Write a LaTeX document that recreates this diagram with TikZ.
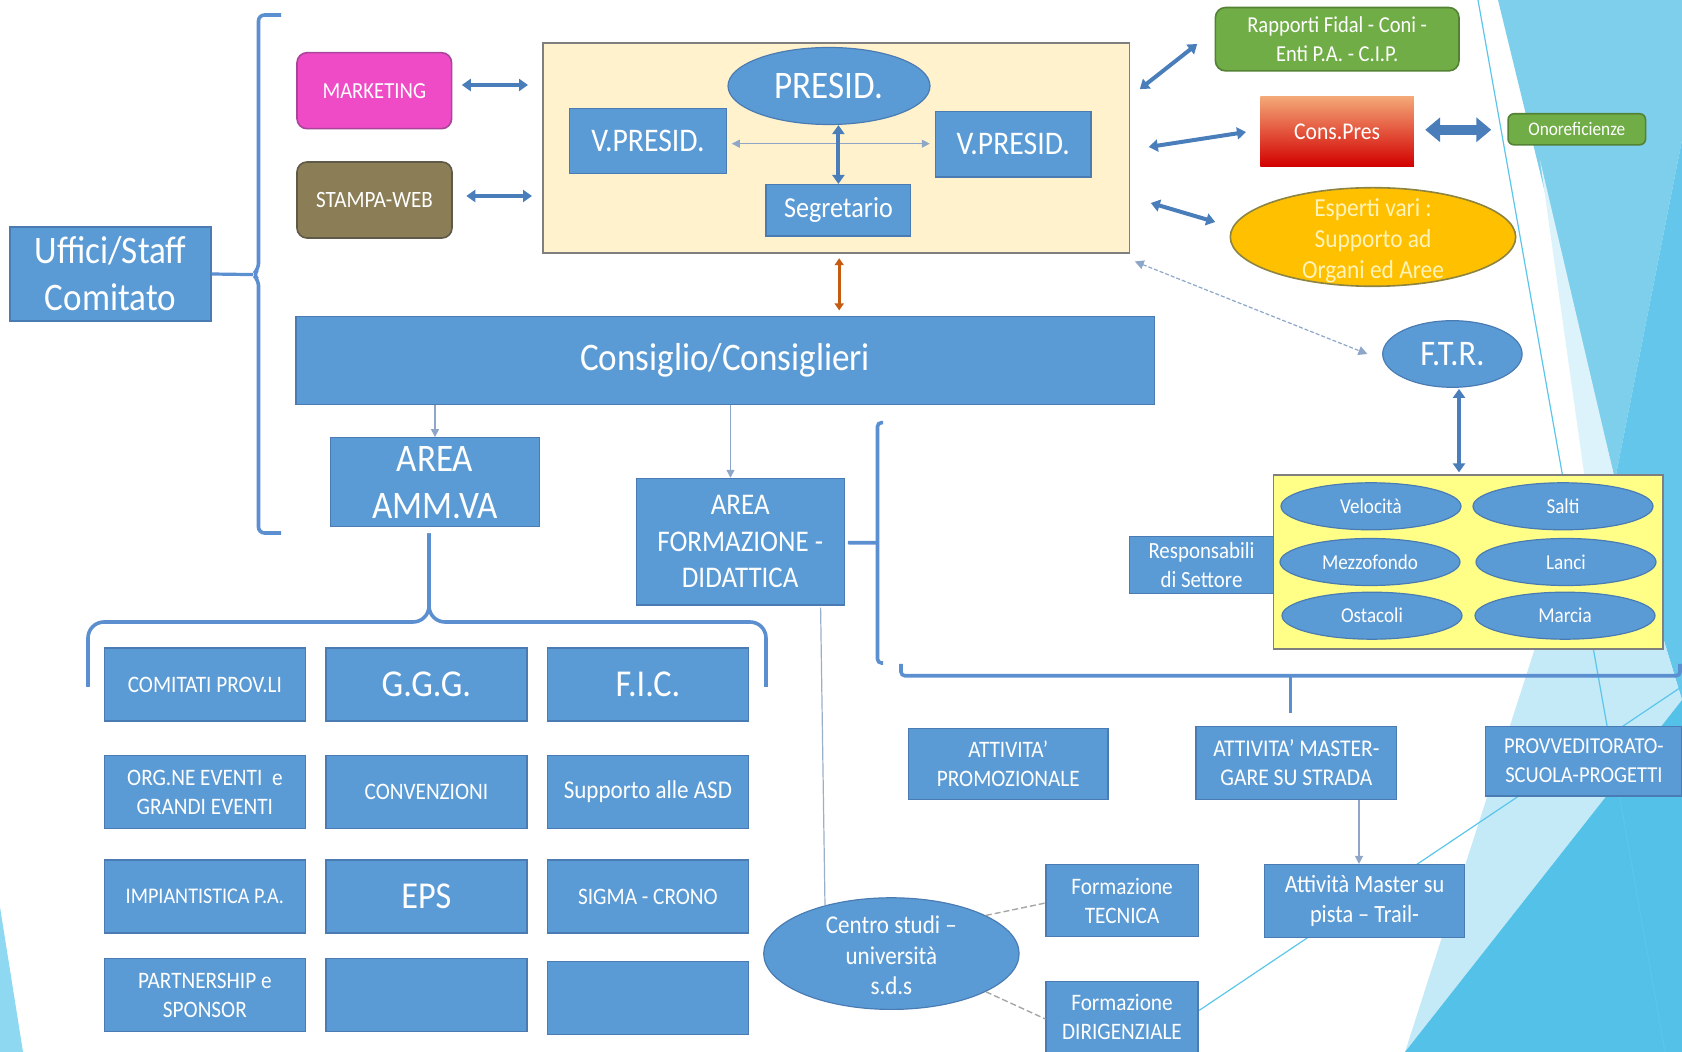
\documentclass[tikz,border=0pt]{standalone}
\usepackage{fontspec}
\setmainfont{Carlito}[FakeStretch=0.9]
\usetikzlibrary{arrows.meta,calc,shapes.geometric}
\definecolor{boxblue}{HTML}{5B9BD5}
\definecolor{boxline}{HTML}{4A7CB3}
\definecolor{arrblue}{HTML}{4A7EBB}
\definecolor{thinblue}{HTML}{8EA7C9}
\definecolor{bracecol}{HTML}{5B8FD0}
\definecolor{creamfill}{HTML}{FFF2CC}
\definecolor{yelfill}{HTML}{FFFF88}
\definecolor{grayline}{HTML}{7F7F7F}
\definecolor{mag}{HTML}{EF4BC6}
\definecolor{magline}{HTML}{A8449A}
\definecolor{olivefill}{HTML}{8B7E57}
\definecolor{oliveline}{HTML}{5F5A47}
\definecolor{grn}{HTML}{70AD47}
\definecolor{grnline}{HTML}{548235}
\definecolor{gold}{HTML}{FFC000}
\definecolor{goldline}{HTML}{8C8440}
\definecolor{esptext}{HTML}{FFF3B8}
\definecolor{orng}{HTML}{C55A11}
\definecolor{cptop}{HTML}{F4A878}
\definecolor{cpbot}{HTML}{D20000}
\definecolor{bgM}{HTML}{7ECFEC}
\definecolor{bgD}{HTML}{63C6EA}
\definecolor{bgB}{HTML}{53C1E8}
\definecolor{bgP}{HTML}{C4E9F7}
\definecolor{bgS}{HTML}{DDF3FB}
\definecolor{bgL}{HTML}{8ED8F1}
\definecolor{bgline}{HTML}{5BC6EB}
\definecolor{glinecol}{HTML}{9AAFC8}
\definecolor{gdashcol}{HTML}{A6A6A6}
\begin{document}
\begin{tikzpicture}[x=0.5pt,y=-0.5pt,
  sz/.style 2 args={minimum width=#1*0.5pt,minimum height=#2*0.5pt},
  box/.style={draw=boxline,fill=boxblue,text=white,align=center,line width=0.6pt,inner sep=1pt},
  ell/.style={box,ellipse},
  rbox/.style={text=white,align=center,rounded corners=5pt,line width=0.8pt,inner sep=1pt},
  fA/.style={font=\fontsize{19.5}{23.5}\selectfont},
  fG/.style={font=\fontsize{19}{23}\selectfont},
  fFTR/.style={font=\fontsize{18}{22}\selectfont},
  fV/.style={font=\fontsize{16.5}{20}\selectfont},
  fF/.style={font=\fontsize{15}{18.2}\selectfont},
  fSeg/.style={font=\fontsize{14.5}{17}\selectfont},
  fE/.style={font=\fontsize{13}{15.5}\selectfont},
  fC/.style={font=\fontsize{12.8}{15.3}\selectfont},
  fP/.style={font=\fontsize{12.4}{14.6}\selectfont},
  fS/.style={font=\fontsize{11.8}{14.5}\selectfont},
  fSs/.style={font=\fontsize{11.4}{14.5}\selectfont},
  fO/.style={font=\fontsize{9.6}{11.5}\selectfont},
  fV2/.style={font=\fontsize{10.6}{12.5}\selectfont},
  dbl/.style={draw=arrblue,line width=2pt,arrows={Triangle[width=6pt,length=4.5pt]-Triangle[width=6pt,length=4.5pt]}},
  thinar/.style={draw=thinblue,line width=0.6pt,arrows={-Triangle[width=4pt,length=4pt]}},
  thinboth/.style={draw=thinblue,line width=0.6pt,arrows={Triangle[width=4pt,length=4pt]-Triangle[width=4pt,length=4pt]}},
  dasharr/.style={draw=thinblue,line width=0.6pt,dash pattern=on 2pt off 1pt,arrows={Triangle[width=4.5pt,length=4.5pt]-Triangle[width=4.5pt,length=4.5pt]}},
  orar/.style={draw=orng,line width=1.6pt,arrows={Triangle[width=4.5pt,length=3.5pt]-Triangle[width=4.5pt,length=3.5pt]}},
  blockar/.style={draw=arrblue,line width=4.8pt,arrows={Triangle[width=12pt,length=7.5pt]-Triangle[width=12pt,length=7.5pt]}},
  brace/.style={draw=bracecol,line width=1.8pt,rounded corners=4pt},
  gline/.style={draw=glinecol,line width=0.6pt},
  gdash/.style={draw=gdashcol,line width=0.7pt,dash pattern=on 3pt off 1.5pt},
  bgl/.style={draw=bgline,line width=0.6pt}
]
\useasboundingbox (0,0) rectangle (1682,1052);
% ---------- background decoration
\fill[bgM] (1498,0) -- (1682,0) -- (1682,140) -- (1615,480) -- cycle;
\fill[bgD] (1682,140) -- (1615,480) -- (1682,700) -- cycle;
\fill[bgS] (1540,160) -- (1615,480) -- (1585,480) -- cycle;
\fill[bgP] (1585,480) -- (1615,480) -- (1682,700) -- (1405,1052) -- (1535,648) -- cycle;
\fill[bgB] (1405,1052) -- (1682,700) -- (1682,1052) -- cycle;
\fill[bgL] (0,907) -- (23,1052) -- (0,1052) -- cycle;
\draw[bgl] (1478,0) -- (1665,1052);
\draw[bgl] (1682,686.5) -- (1199,1010.5);

% ---------- nodes
\node[box,sz={201}{94},fA] (uff) at (110.5,274) {Uffici/Staff\\Comitato};
\node[rbox,fill=mag,draw=magline,sz={154.6}{76},font=\fontsize{11.5}{14}\selectfont] (mkt) at (374.3,90.7) {MARKETING};
\node[rbox,fill=olivefill,draw=oliveline,sz={155}{76},font=\fontsize{11.7}{14}\selectfont] (stw) at (374.5,200) {STAMPA-WEB};
\node[draw=grayline,fill=creamfill,line width=0.8pt,sz={586.8}{210.3}] (cream) at (836.2,148) {};
\node[ell,sz={202}{77},fA] (pres) at (829,86) {PRESID.};
\node[box,sz={156.6}{65.5},fV] (vpl) at (647.9,141) {V.PRESID.};
\node[box,sz={155.6}{65.4},fV] (vpr) at (1013.2,144.3) {V.PRESID.};
\node[box,sz={144.7}{51.5},fSeg] (seg) at (838.4,210.3) {Segretario};
\node[box,sz={858.2}{88},fA] (cons) at (725.1,360.4) {Consiglio/Consiglieri};
\node[rbox,fill=grn,draw=grnline,sz={243.6}{63.3},fSs] (rap) at (1337.2,39.2) {Rapporti Fidal - Coni -\\Enti P.A. - C.I.P.};
\node[top color=cptop,bottom color=cpbot,text=white,sz={153.4}{69.8},font=\fontsize{12}{14}\selectfont] (cpres) at (1337.1,131.4) {Cons.Pres};
\node[rbox,fill=grn,draw=grnline,rounded corners=3pt,sz={137.5}{31.1},fO] (onor) at (1576.8,129.3) {Onoreficienze};
\node[ellipse,draw=goldline,fill=gold,line width=0.8pt,sz={285.4}{98.6}] (esp) at (1373,237) {};
\node[text=esptext,align=center,fE,inner sep=0pt] (espt) at ($(esp.center)+(0,4)$) {Esperti vari :\\Supporto ad\\Organi ed Aree};
\node[ell,sz={139.4}{66.6},fFTR] (ftr) at (1452.4,354) {F.T.R.};
\node[draw=grayline,fill=yelfill,line width=0.8pt,sz={389.4}{173.8}] (yel) at (1468,562.1) {};
\node[ell,sz={180}{47},fV2] (vel) at (1371,506.3) {Velocità};
\node[ell,sz={180}{47},fV2] (sal) at (1563,506.3) {Salti};
\node[ell,sz={180}{47},fV2] (mez) at (1370,562) {Mezzofondo};
\node[ell,sz={180}{47},fV2] (lan) at (1566,562) {Lanci};
\node[ell,sz={180}{47},fV2] (ost) at (1372,615.7) {Ostacoli};
\node[ell,sz={180}{47},fV2] (mar) at (1565,615.7) {Marcia};
\node[box,sz={143.7}{56.8},font=\fontsize{11.6}{14.5}\selectfont] (resp) at (1201.5,564.8) {Responsabili\\di Settore};
\node[box,sz={209.2}{89},fA] (amm) at (435,482.2) {AREA\\AMM.VA};
\node[box,sz={208.1}{126.6},fF] (form) at (740.2,541.7) {AREA\\FORMAZIONE -\\DIDATTICA};
% grid
\node[box,sz={201}{73},fS] (g11) at (204.9,684.5) {COMITATI PROV.LI};
\node[box,sz={201}{73},fG] (g12) at (426.4,684.5) {G.G.G.};
\node[box,sz={201}{73},fG] (g13) at (647.9,684.5) {F.I.C.};
\node[box,sz={201}{73},fS] (g21) at (204.9,792) {ORG.NE EVENTI~ e\\GRANDI EVENTI};
\node[box,sz={201}{73},fS] (g22) at (426.4,792) {CONVENZIONI};
\node[box,sz={201}{73},fC] (g23) at (647.9,792) {Supporto alle ASD};
\node[box,sz={201}{73},font=\fontsize{11.2}{14}\selectfont] (g31) at (204.9,896.5) {IMPIANTISTICA P.A.};
\node[box,sz={201}{73},fG] (g32) at (426.4,896.5) {EPS};
\node[box,sz={201}{73},fS] (g33) at (647.9,896.5) {SIGMA - CRONO};
\node[box,sz={201}{73},fS] (g41) at (204.9,995) {PARTNERSHIP e\\SPONSOR};
\node[box,sz={201}{73}] (g42) at (426.4,995) {};
\node[box,sz={201}{73}] (g43) at (647.9,998) {};
% lower right
\node[ell,sz={255.4}{111.6}] (centro) at (891.4,953.6) {};
\node[text=white,align=center,fC,inner sep=0pt] (centrot) at ($(centro.center)+(0,2)$) {Centro studi –\\università\\s.d.s};
\node[box,sz={152.2}{71.9},fS] (ftec) at (1122.1,900.6) {Formazione\\TECNICA};
\node[box,sz={152}{71},fS] (fdir) at (1122,1017) {Formazione\\DIRIGENZIALE};
\node[box,sz={199.4}{70.8},fS] (promo) at (1008.3,763.8) {ATTIVITA'\\PROMOZIONALE};
\node[box,sz={200.7}{73},font=\fontsize{12}{14.5}\selectfont] (mast) at (1296.4,762.7) {ATTIVITA' MASTER-\\GARE SU STRADA};
\node[box,sz={196.3}{69.8},fSs] (prov) at (1583.9,761.1) {PROVVEDITORATO-\\SCUOLA-PROGETTI};
\node[box,sz={199.5}{72.9},fP] (pista) at (1364.5,901) {Attività Master su\\pista – Trail-};

% ---------- connectors
% left brace
\coordinate (bn) at (253,274.6);
\draw[brace,rounded corners=3pt] (281,15) -- (258.5,15) -- (258.5,269) -- (bn) -- (258.5,280) -- (258.5,533) -- (281,533);
\draw[brace,line width=1.6pt] (uff.east) -- (bn);
% staff arrows
\draw[dbl] ($(mkt.east)+(9.4,-5.7)$) -- ($(cream.west |- mkt.east)+(-14,-5.7)$);
\draw[dbl] ($(stw.east)+(13.5,-4)$) -- ($(cream.west |- stw.east)+(-10,-4)$);
% presidency internals
\draw[thinboth] ($(vpl.east)+(5,2.7)$) -- ($(vpr.west)+(-5,-0.6)$);
\draw[dbl] (seg.north) -- (seg.north |- pres.south);
\draw[orar] ($(cream.south)+(3,4.3)$) -- ($(cream.south |- cons.north)+(3,-5.4)$);
% right side
\draw[dbl] ($(cream.north east)+(9.4,47.1)$) -- ($(rap.west)+(-17.4,4.8)$);
\draw[dbl] ($(cream.east)+(18.4,-1)$) -- ($(cpres.west)+(-14,0.6)$);
\draw[dbl] ($(cream.east)+(20.4,55)$) -- ($(esp.west)+(-14.3,-15)$);
\draw[blockar] ($(cpres.east)+(11,-1.6)$) -- ($(onor.west)+(-16,0.5)$);
\draw[dasharr] ($(cream.south east)+(4.4,7.5)$) -- ($(ftr.west)+(-14.7,0)$);
\draw[dbl] ($(ftr.south)+(6.6,1)$) -- ($(ftr.south |- yel.north)+(6.6,-2)$);
% consiglio to areas
\draw[thinar] (amm.north |- cons.south) -- (amm.north);
\draw[thinar] ($(form.north |- cons.south)+(-9.7,0)$) -- ($(form.north)+(-9.7,0)$);
% brace under AREA AMM.VA
\draw[brace,rounded corners=8pt] (88,687) -- (88,622) -- (429,622) -- ($(amm.south)+(-6,6)$);
\draw[brace,rounded corners=8pt] (766,687) -- (766,622) -- (429,622) -- ($(amm.south)+(-6,6)$);
% bracket right of AREA FORMAZIONE
\coordinate (fb) at (877.5,542.8);
\draw[brace,rounded corners=2pt] (883,422.6) -- (877.5,422.6) -- (877.5,663) -- (883,663);
\draw[brace] ($(form.east)+(3,1)$) -- (fb);
% horizontal bracket
\coordinate (hb) at (1290.5,675.8);
\draw[brace,rounded corners=2pt] (901,664) -- (901,675.8) -- (1680,675.8) -- (1680,664);
\draw[brace] (hb) -- ($(mast.north)+(-5.9,-13)$);
% lower links
\draw[gline] ($(form.south)+(80.4,2)$) -- (centro.144);
\draw[gdash] (centro.22) -- ($(ftec.west)+(0,2.4)$);
\draw[gdash] (centro.-22) -- ($(fdir.west)+(0,2)$);
\draw[thinar] ($(pista.north |- mast.south)+(-5.5,0)$) -- ($(pista.north)+(-5.5,0)$);
\end{tikzpicture}
\end{document}
